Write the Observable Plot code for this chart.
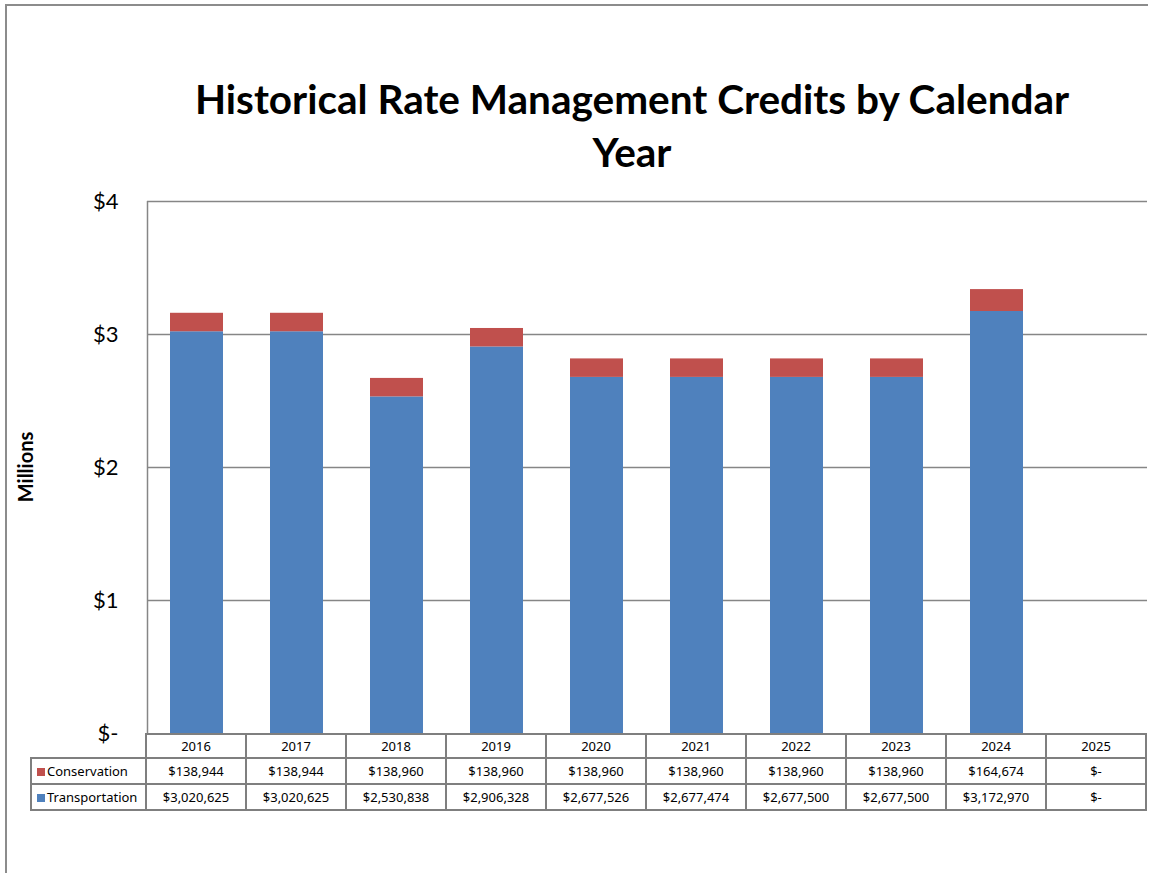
<!DOCTYPE html>
<html>
<head>
<meta charset="utf-8">
<script src="https://cdn.jsdelivr.net/npm/d3@7"></script>
<script src="https://cdn.jsdelivr.net/npm/@observablehq/plot@0.6"></script>
<style>
  html, body { margin: 0; padding: 0; background: #fff; overflow: hidden; }
  #wrap { position: relative; width: 1176px; height: 873px; }
  #frame { position: absolute; left: 5px; top: 4px; width: 1143px; height: 880px;
           border-left: 2px solid #8c8c8c; border-top: 2px solid #8c8c8c; box-sizing: border-box; }
  #title { position: absolute; left: 88px; width: 1088px; top: 72px; text-align: center;
           font-family: Lato, sans-serif; font-weight: bold; font-size: 40.5px; line-height: 53px; color: #000; }
  #ylab { position: absolute; left: 25px; top: 467px; transform: translate(-50%, -50%) rotate(-90deg);
          font-family: Lato, sans-serif; font-weight: bold; font-size: 20px; color: #000; white-space: nowrap; }
  #chart { position: absolute; left: 0; top: 0; }
  #tbl { position: absolute; left: 30px; top: 733px; border-collapse: collapse;
         font-family: "Noto Sans", sans-serif; font-size: 13px; color: #000; }
  #tbl td { border: 2px solid #7f7f7f; text-align: center; padding: 0; width: 98px; }
  #tbl td.lab { width: 115px; text-align: left; padding-left: 5px; box-sizing: border-box; white-space: nowrap; }
  #tbl tr.h td.lab { border: none; }
  #tbl tr.h td { height: 22px; }
  #tbl tr.r td { height: 24px; }
  .key { display: inline-block; width: 8px; height: 8px; margin-right: 2px; vertical-align: 0px; }
</style>
</head>
<body>
<div id="wrap">
  <div id="frame"></div>
  <div id="chart"></div>
  <div id="title">Historical Rate Management Credits by Calendar<br>Year</div>
  <div id="ylab">Millions</div>
  <table id="tbl"></table>
</div>
<script>
const years = ["2016","2017","2018","2019","2020","2021","2022","2023","2024","2025"];
const conservation = [138944,138944,138960,138960,138960,138960,138960,138960,164674,0];
const transportation = [3020625,3020625,2530838,2906328,2677526,2677474,2677500,2677500,3172970,0];
const seriesNames = ["Transportation","Conservation"];
const seriesColors = ["#4F81BD","#C0504D"];
const yTicks = [0,1,2,3,4];

const rows = [];
years.forEach((yr, i) => {
  rows.push({year: yr, series: "Transportation", value: transportation[i] / 1e6});
  rows.push({year: yr, series: "Conservation", value: conservation[i] / 1e6});
});

const chart = Plot.plot({
  width: 1176,
  height: 873,
  marginTop: 201,
  marginBottom: 140,
  marginLeft: 147,
  marginRight: 29,
  style: {fontFamily: "Lato, sans-serif", fontSize: "22px", color: "#000", background: "transparent"},
  x: {domain: years, padding: 0, axis: null},
  y: {domain: [0, 4], ticks: yTicks, tickSize: 0, tickPadding: 29, label: null,
      tickFormat: d => d === 0 ? "$-" : "$" + d},
  color: {domain: seriesNames, range: seriesColors},
  marks: [
    Plot.ruleY(yTicks.slice(1), {stroke: "#868686", strokeWidth: 1.5}),
    Plot.ruleX([years[0]], {y1: 0, y2: 4, dx: -50, stroke: "#868686", strokeWidth: 1.5}),
    Plot.barY(rows, {x: "year", y: "value", fill: "series", order: seriesNames,
                     insetLeft: 23, insetRight: 24})
  ]
});
document.getElementById("chart").appendChild(chart);

const fmt = v => v === 0 ? "$-" : "$" + d3.format(",")(v);
const tbl = d3.select("#tbl");
const h = tbl.append("tr").attr("class", "h");
h.append("td").attr("class", "lab");
years.forEach(y => h.append("td").text(y));
[["Conservation", conservation, seriesColors[1]], ["Transportation", transportation, seriesColors[0]]]
  .forEach(([name, vals, col]) => {
    const tr = tbl.append("tr").attr("class", "r");
    const lab = tr.append("td").attr("class", "lab");
    lab.append("span").attr("class", "key").style("background", col);
    lab.append("span").text(name);
    vals.forEach(v => tr.append("td").text(fmt(v)));
  });
</script>
</body>
</html>
